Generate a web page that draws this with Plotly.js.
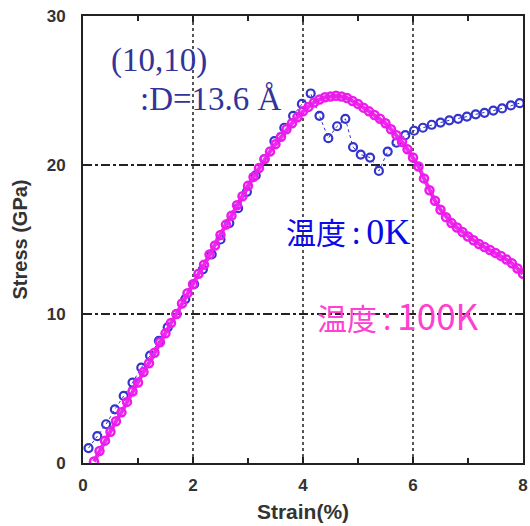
<!DOCTYPE html>
<html>
<head>
<meta charset="utf-8">
<script src="https://cdn.plot.ly/plotly-3.0.1.min.js"></script>
<style>html,body{margin:0;padding:0;background:#fff;}#chart{width:530px;height:526px;}</style>
</head>
<body>
<div id="chart"></div>
<script>
// 0K series (blue)
var strain0K = [0.10,0.26,0.42,0.58,0.74,0.90,1.06,1.22,1.38,1.54,1.70,1.86,2.02,2.18,2.34,2.50,2.66,2.82,2.98,3.14,3.30,3.48,3.66,3.82,3.98,4.14,
  4.30,4.46,4.62,4.77,4.91,5.05,5.22,5.38,5.54,5.70,5.86,6.02,6.18,6.34,6.50,6.66,6.82,6.98,7.14,7.30,7.46,7.62,7.78,7.94];
var stress0K = [1.0,1.8,2.6,3.6,4.5,5.4,6.4,7.2,8.2,9.1,10.0,11.0,12.0,13.0,14.0,15.0,16.1,17.1,18.2,19.3,20.4,21.6,22.5,23.3,24.1,24.8,
  23.3,21.8,22.6,23.1,21.2,20.7,20.5,19.6,20.9,21.5,22.0,22.3,22.5,22.7,22.85,23.0,23.1,23.25,23.4,23.5,23.65,23.8,24.0,24.15];

// 100K series (magenta)
var strain100K = [0.2,0.3,0.4,0.5,0.6,0.7,0.8,0.9,1.0,1.1,1.2,1.3,1.4,1.5,1.6,1.7,1.8,1.9,2.0,2.1,2.2,2.3,2.4,2.5,2.6,2.7,2.8,2.9,3.0,
  3.1,3.2,3.3,3.4,3.5,3.6,3.7,3.8,3.9,4.0,4.1,4.2,4.3,4.4,4.5,4.6,4.7,4.8,4.9,5.0,5.1,5.2,5.3,5.4,5.5,5.6,5.7,5.8,5.9,6.0,
  6.1,6.2,6.3,6.4,6.5,6.6,6.7,6.8,6.9,7.0,7.1,7.2,7.3,7.4,7.5,7.6,7.7,7.8,7.9,8.0];
var stress100K = [0.1,0.8,1.5,2.1,2.8,3.4,4.1,4.8,5.4,6.1,6.7,7.4,8.1,8.7,9.4,10.0,10.7,11.4,12.0,12.7,13.3,14.0,14.6,15.3,16.0,16.6,17.3,17.9,18.6,
  19.2,19.8,20.4,20.9,21.4,21.9,22.4,22.8,23.2,23.6,23.9,24.2,24.4,24.55,24.6,24.65,24.6,24.5,24.3,24.1,23.85,23.6,23.35,23.1,22.8,22.4,22.0,21.55,21.05,20.5,
  19.9,19.1,18.3,17.6,17.0,16.5,16.1,15.8,15.5,15.2,14.95,14.7,14.5,14.3,14.1,13.9,13.65,13.4,13.05,12.7];

var xTicks = [0,2,4,6,8];
var yTicks = [0,10,20,30];

var traces = [
  {x: strain0K, y: stress0K, mode: 'lines+markers', type: 'scatter',
   line: {color: '#3434cc', width: 1, dash: 'dot'},
   marker: {symbol: 'circle-open', size: 8, color: '#3434cc', line: {width: 2.2, color: '#3434cc'}},
   showlegend: false},
  {x: strain100K, y: stress100K, mode: 'lines+markers', type: 'scatter',
   line: {color: '#f028f0', width: 4},
   marker: {symbol: 'circle-open', size: 8, color: '#ec1cec', line: {width: 2.5, color: '#ec1cec'}},
   showlegend: false}
];

var tickFont = {size: 17, family: 'Liberation Sans, Arial, sans-serif', color: '#333', weight: 'bold'};

var layout = {
  width: 530, height: 526,
  margin: {l: 83, r: 7, t: 16, b: 63},
  paper_bgcolor: '#fff', plot_bgcolor: '#fff',
  font: {family: 'Liberation Sans, Arial, sans-serif', color: '#333'},
  xaxis: {
    range: [0, 8], tickvals: xTicks, ticktext: xTicks.map(String),
    showline: true, linecolor: '#222', linewidth: 2, mirror: 'ticks',
    ticks: 'inside', ticklen: 6, tickcolor: '#222', tickwidth: 2,
    minor: {dtick: 1, ticks: 'inside', ticklen: 5, tickcolor: '#222', tickwidth: 2, showgrid: false},
    showgrid: true, gridcolor: '#555', griddash: 'dot', gridwidth: 1.5,
    zeroline: false, ticklabelstandoff: 6,
    tickfont: tickFont,
    title: {text: '<b>Strain(%)</b>', font: {size: 21, color: '#333'}, standoff: 10}
  },
  yaxis: {
    range: [0, 30], tickvals: yTicks, ticktext: yTicks.map(String),
    showline: true, linecolor: '#222', linewidth: 2, mirror: true,
    ticks: '',
    showgrid: true, gridcolor: '#222', griddash: 'dashdot', gridwidth: 2,
    zeroline: false, ticklabelstandoff: 12,
    tickfont: tickFont,
    title: {text: '<b>Stress (GPa)</b>', font: {size: 20, color: '#333'}, standoff: 14}
  },
  annotations: [
    {xref: 'paper', yref: 'paper', x: 0.06, y: 0.90, xanchor: 'left', yanchor: 'middle', showarrow: false,
     text: '(10,10)', font: {family: 'Liberation Serif, serif', size: 33, color: '#333399'}},
    {xref: 'paper', yref: 'paper', x: 0.124, y: 0.815, xanchor: 'left', yanchor: 'middle', showarrow: false,
     text: ':D=13.6 Å', font: {family: 'Liberation Serif, serif', size: 33, color: '#333399'}},
    {xref: 'paper', yref: 'paper', x: 0.456, y: 0.52, xanchor: 'left', yanchor: 'middle', showarrow: false,
     text: '温度\u2009:\u2009<span style="font-family:Liberation Serif, serif;font-size:36px">0K</span>',
     font: {family: 'Noto Sans CJK JP, sans-serif', size: 30, color: '#0a0ae8'}},
    {xref: 'paper', yref: 'paper', x: 0.527, y: 0.333, xanchor: 'left', yanchor: 'middle', showarrow: false,
     text: '温度\u2009:\u2009<span style="font-size:35px">100K</span>',
     font: {family: 'Noto Sans CJK JP, sans-serif', size: 30, color: '#ff40d0'}}
  ]
};

Plotly.newPlot('chart', traces, layout, {staticPlot: true, displayModeBar: false});
</script>
</body>
</html>
